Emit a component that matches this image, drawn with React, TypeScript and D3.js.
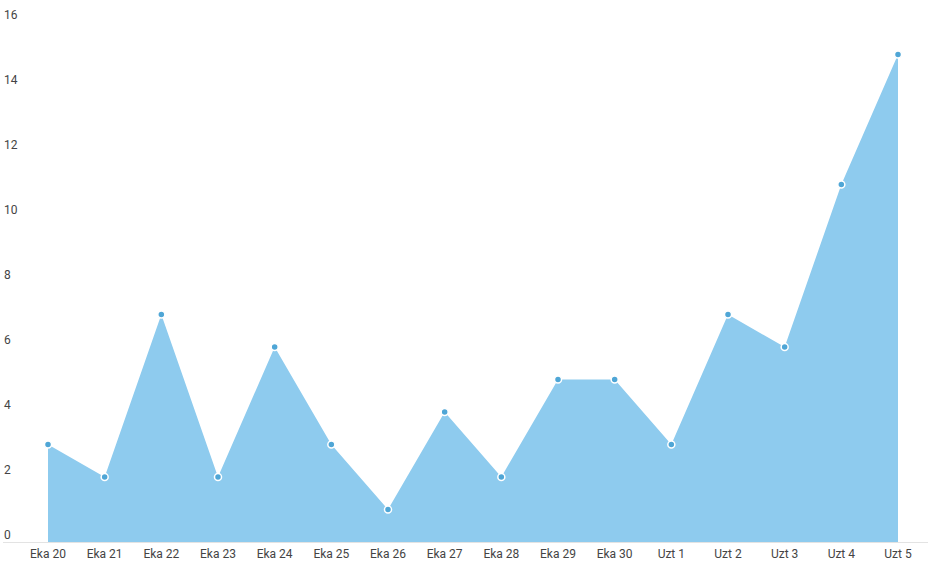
import React, { useEffect, useRef } from "react";
import * as d3 from "d3";

const categories = [
  "Eka 20", "Eka 21", "Eka 22", "Eka 23", "Eka 24", "Eka 25", "Eka 26", "Eka 27",
  "Eka 28", "Eka 29", "Eka 30", "Uzt 1", "Uzt 2", "Uzt 3", "Uzt 4", "Uzt 5",
];
const values = [3, 2, 7, 2, 6, 3, 1, 4, 2, 5, 5, 3, 7, 6, 11, 15];
const yTicks = [0, 2, 4, 6, 8, 10, 12, 14, 16];

const W = 931;
const H = 578;

const App: React.FC = () => {
  const svgRef = useRef<SVGSVGElement | null>(null);

  useEffect(() => {
    if (!svgRef.current) return;
    const svg = d3.select(svgRef.current);
    svg.selectAll("*").remove();

    const x = d3.scalePoint<string>().domain(categories).range([48, 898]);
    const y = d3.scaleLinear().domain([0, 16]).range([542, 22]);

    const data = categories.map((c, i) => ({ c, v: values[i] }));

    // area
    svg
      .append("path")
      .datum(data)
      .attr("fill", "#8ecbee")
      .attr(
        "d",
        d3
          .area<{ c: string; v: number }>()
          .x((d) => x(d.c)!)
          .y0(y(0))
          .y1((d) => y(d.v))
      );

    // baseline
    svg
      .append("line")
      .attr("x1", 3)
      .attr("x2", 928)
      .attr("y1", y(0) + 0.5)
      .attr("y2", y(0) + 0.5)
      .attr("stroke", "#e3e3e3")
      .attr("stroke-width", 1);

    // y labels (sit above their gridline)
    svg
      .selectAll(".ylab")
      .data(yTicks)
      .enter()
      .append("text")
      .attr("class", "ylab")
      .attr("x", 4)
      .attr("y", (d) => y(d) - 3)
      .style("font-family", "Roboto, sans-serif")
      .style("font-size", "12px")
      .style("fill", "#444")
      .text((d) => d);

    // x labels
    svg
      .selectAll(".xlab")
      .data(categories)
      .enter()
      .append("text")
      .attr("class", "xlab")
      .attr("x", (d) => x(d)!)
      .attr("y", 558)
      .attr("text-anchor", "middle")
      .style("font-family", "Roboto, sans-serif")
      .style("font-size", "12px")
      .style("fill", "#444")
      .text((d) => d);

    // markers
    svg
      .selectAll(".dot")
      .data(data)
      .enter()
      .append("circle")
      .attr("class", "dot")
      .attr("cx", (d) => x(d.c)!)
      .attr("cy", (d) => y(d.v))
      .attr("r", 3.5)
      .attr("fill", "#4fa6d6")
      .attr("stroke", "#fff")
      .attr("stroke-width", 1.5);
  }, []);

  return (
    <div style={{ position: "absolute", left: 0, top: 0 }}>
      <svg ref={svgRef} width={W} height={H} style={{ display: "block" }}></svg>
    </div>
  );
};

export default App;
